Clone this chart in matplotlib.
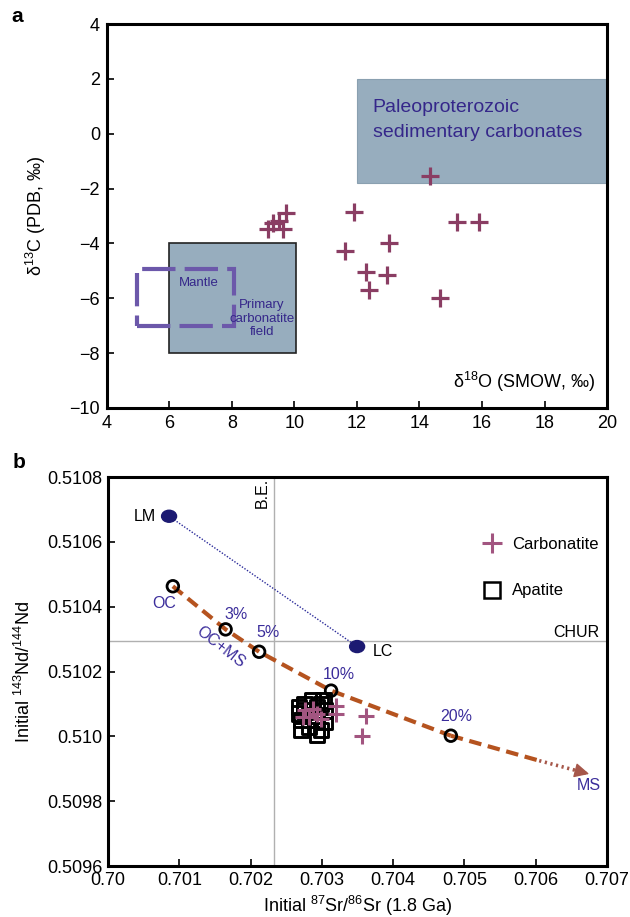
import matplotlib
matplotlib.use("Agg")
import matplotlib.pyplot as plt
from matplotlib.patches import Rectangle, Ellipse
from matplotlib.lines import Line2D

plt.rcParams['font.family'] = ['Liberation Sans', 'DejaVu Sans']
plt.rcParams['mathtext.fontset'] = 'custom'
plt.rcParams['mathtext.rm'] = 'Liberation Sans'
plt.rcParams['mathtext.it'] = 'Liberation Sans:italic'

# ---------------- Panel a data ----------------
d18O = [14.35, 11.90, 15.21, 15.92, 13.02, 11.61, 12.30, 12.97, 12.39, 14.66,
        9.72, 9.50, 9.30, 9.15, 9.62]
d13C = [-1.55, -2.87, -3.21, -3.21, -4.00, -4.28, -5.03, -5.16, -5.71, -6.00,
        -2.88, -3.20, -3.25, -3.47, -3.47]
sed_box = (12.0, 20.0, -1.8, 2.0)        # x0, x1, y0, y1
primary_box = (6.0, 10.05, -8.0, -4.0)
mantle_box = (4.95, 8.05, -7.0, -4.95)
a_xticks = [4, 6, 8, 10, 12, 14, 16, 18, 20]
a_yticks = [-10, -8, -6, -4, -2, 0, 2, 4]
a_yticklabels = ['\u221210', '\u22128', '\u22126', '\u22124', '\u22122', '0', '2', '4']

# ---------------- Panel b data ----------------
carb_sr = [0.70276, 0.70288, 0.70293, 0.70273, 0.70299, 0.70282, 0.70320, 0.70320, 0.70362, 0.70357]
carb_nd = [0.510080, 0.510085, 0.510070, 0.510060, 0.510055, 0.510060, 0.510095, 0.510070, 0.510062, 0.510002]
apat_sr = [0.70268, 0.70276, 0.70271, 0.70282, 0.70293, 0.70299, 0.70304, 0.70293, 0.70282,
           0.70271, 0.70293, 0.70299, 0.70268, 0.70276, 0.70304, 0.70287, 0.70302]
apat_nd = [0.510090, 0.510080, 0.510050, 0.510065, 0.510090, 0.510100, 0.510080, 0.510050, 0.510030,
           0.510020, 0.510005, 0.510020, 0.510070, 0.510100, 0.510045, 0.510110, 0.510110]
mix_sr = [0.70091, 0.70165, 0.70212, 0.70313, 0.70481]
mix_nd = [0.510463, 0.510330, 0.510261, 0.510141, 0.510002]
mix_labels = ['OC', '3%', '5%', '10%', '20%']
ms_tail_sr = [0.70481, 0.70605]
ms_tail_nd = [0.510002, 0.509925]
ms_tip = (0.70675, 0.509884)
lm = (0.700857, 0.510679)
lc = (0.703495, 0.510277)
be_sr = 0.702334
chur_nd = 0.510294
b_xticks = [0.700, 0.701, 0.702, 0.703, 0.704, 0.705, 0.706, 0.707]
b_xticklabels = ['0.70', '0.701', '0.702', '0.703', '0.704', '0.705', '0.706', '0.707']
b_yticks = [0.5096, 0.5098, 0.5100, 0.5102, 0.5104, 0.5106, 0.5108]
b_yticklabels = ['0.5096', '0.5098', '0.510', '0.5102', '0.5104', '0.5106', '0.5108']

BOX = '#97adbe'
PLUS_A = '#8a3d63'
PLUS_B = '#a25580'
BLUE = '#3b2d9b'
NAVY = '#1c1a72'
BROWN = '#b5531f'

fig = plt.figure(figsize=(6.3, 9.17), dpi=100)

# ================= Panel a =================
ax = fig.add_axes([0.1698, 0.5551, 0.7937, 0.4187])
ax.set_xlim(4, 20)
ax.set_ylim(-10, 4)
x0, x1, y0, y1 = sed_box
ax.add_patch(Rectangle((x0, y0), x1 - x0, y1 - y0, facecolor=BOX, edgecolor='#8aa0b0', lw=0.8, zorder=1))
x0, x1, y0, y1 = primary_box
ax.add_patch(Rectangle((x0, y0), x1 - x0, y1 - y0, facecolor=BOX, edgecolor='#222222', lw=1.2, zorder=1))
x0, x1, y0, y1 = mantle_box
ax.add_patch(Rectangle((x0, y0), x1 - x0, y1 - y0, facecolor='none', edgecolor='#6c58aa',
                       lw=3.0, linestyle=(0, (8, 2.2)), zorder=2))
ax.plot(d18O, d13C, linestyle='none', marker='+', ms=13, mew=2.3, color=PLUS_A, zorder=3)
ax.text(12.5, 0.95, 'Paleoproterozoic', color='#35278a', fontsize=14, va='center', ha='left')
ax.text(12.5, 0.05, 'sedimentary carbonates', color='#35278a', fontsize=14, va='center', ha='left')
ax.text(6.95, -5.45, 'Mantle', color='#35278a', fontsize=9.5, ha='center', va='center', zorder=4)
ax.text(8.95, -6.75, 'Primary\ncarbonatite\nfield', color='#35278a', fontsize=9.5, ha='center',
        va='center', linespacing=1.15, zorder=4)
ax.text(19.65, -9.05, '\u03b4$^{18}$O (SMOW, \u2030)', fontsize=13, ha='right', va='center')
ax.set_ylabel('\u03b4$^{13}$C (PDB, \u2030)', fontsize=13)
ax.yaxis.set_label_coords(-0.118, 0.5)
ax.set_xticks(a_xticks)
ax.set_yticks(a_yticks)
ax.set_yticklabels(a_yticklabels)
ax.tick_params(direction='in', length=5, width=1.2, labelsize=13, top=False, right=False, pad=5)
for s in ax.spines.values():
    s.set_linewidth(2.2)
fig.text(0.018, 0.982, 'a', fontsize=15, fontweight='bold', va='center')

# ================= Panel b =================
bx = fig.add_axes([0.1714, 0.0556, 0.792, 0.4242])
bx.set_xlim(0.700, 0.707)
bx.set_ylim(0.5096, 0.5108)
bx.axvline(be_sr, color='#b0b0b0', lw=1.0, zorder=0)
bx.axhline(chur_nd, color='#b0b0b0', lw=1.0, zorder=0)
bx.plot([lm[0], lc[0]], [lm[1], lc[1]], linestyle=(0, (1, 1.2)), color='#2b2b9a', lw=1.0, zorder=1)
for p in (lm, lc):
    bx.add_patch(Ellipse(p, width=0.00021, height=0.000037, facecolor=NAVY, edgecolor=NAVY, zorder=5))
bx.plot(mix_sr, mix_nd, color=BROWN, lw=3.0, linestyle=(0, (3, 1.6)), zorder=2)
bx.plot(ms_tail_sr, ms_tail_nd, color=BROWN, lw=3.0, linestyle=(0, (3, 1.6)), zorder=2)
bx.plot([ms_tail_sr[-1], ms_tip[0]], [ms_tail_nd[-1], ms_tip[1]], color='#a6574a', lw=2.6,
        linestyle=(0, (0.6, 1.0)), zorder=2)
bx.annotate('', xy=ms_tip, xytext=(ms_tip[0] - 0.0002, ms_tip[1] + 0.0000115),
            arrowprops=dict(arrowstyle='-|>,head_length=0.9,head_width=0.45', color='#a6574a',
                            lw=1.0, shrinkA=0, shrinkB=0), zorder=3)
bx.scatter(apat_sr, apat_nd, marker='s', s=110, facecolors='none', edgecolors='black', linewidths=2.1, zorder=3)
bx.plot(carb_sr, carb_nd, linestyle='none', marker='+', ms=12, mew=2.2, color=PLUS_B, zorder=4)
bx.scatter(mix_sr, mix_nd, marker='o', s=70, facecolors='none', edgecolors='black', linewidths=2.0, zorder=4)

lab_pos = [(0.70079, 0.510410), (0.70180, 0.510377), (0.70225, 0.510320), (0.70324, 0.510190), (0.70488, 0.510060)]
for t, (px, py) in zip(mix_labels, lab_pos):
    bx.text(px, py, t, color=BLUE, fontsize=11.5, ha='center', va='center')
bx.text(0.70158, 0.510275, 'OC+MS', color=BLUE, fontsize=11.5, ha='center', va='center', rotation=-38)
bx.text(0.70674, 0.509847, 'MS', color=BLUE, fontsize=11.5, ha='center', va='center')
bx.text(0.70068, 0.510677, 'LM', fontsize=11.5, ha='right', va='center')
bx.text(0.70372, 0.510261, 'LC', fontsize=11.5, ha='left', va='center')
bx.text(0.70217, 0.510752, 'B.E.', fontsize=11.5, ha='center', va='center', rotation=90)
bx.text(0.70690, 0.510321, 'CHUR', fontsize=11.5, ha='right', va='center')

handles = [Line2D([], [], linestyle='none', marker='+', ms=14, mew=2.2, color=PLUS_B),
           Line2D([], [], linestyle='none', marker='s', ms=12, mfc='none', mec='black', mew=1.8)]
bx.legend(handles, ['Carbonatite', 'Apatite'], loc='upper left', bbox_to_anchor=(0.72, 0.885),
          frameon=False, fontsize=12, labelspacing=1.9, handletextpad=0.6, handlelength=1.2)

bx.set_xticks(b_xticks)
bx.set_xticklabels(b_xticklabels)
bx.set_yticks(b_yticks)
bx.set_yticklabels(b_yticklabels)
bx.tick_params(direction='in', length=5, width=1.2, labelsize=13, top=False, right=False, pad=4)
bx.set_xlabel('Initial $^{87}$Sr/$^{86}$Sr (1.8 Ga)', fontsize=13)
bx.xaxis.set_label_coords(0.5, -0.072)
bx.set_ylabel('Initial $^{143}$Nd/$^{144}$Nd', fontsize=13)
bx.yaxis.set_label_coords(-0.148, 0.5)
for s in bx.spines.values():
    s.set_linewidth(2.2)
fig.text(0.02, 0.496, 'b', fontsize=15, fontweight='bold', va='center')

fig.savefig('out.png', dpi=100)
